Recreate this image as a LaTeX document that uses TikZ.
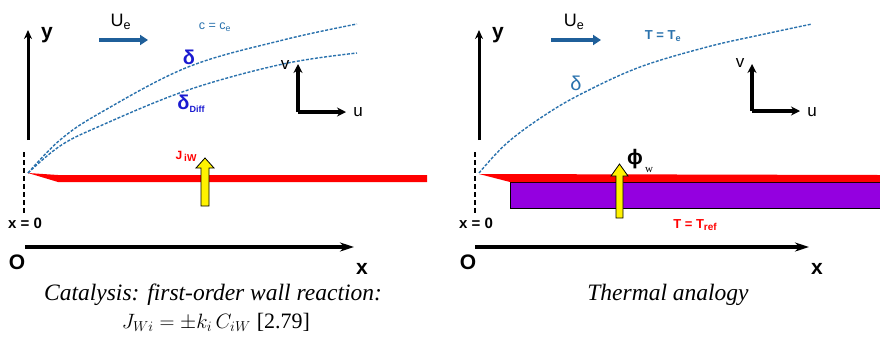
\documentclass[tikz,border=0pt]{standalone}
\usepackage{fontspec}
\setmainfont{Liberation Sans}
\newfontfamily\capfont{Liberation Serif}
\usetikzlibrary{arrows.meta}
\definecolor{steel}{HTML}{1F5F9A}
\definecolor{curveblue}{HTML}{2A72AD}
\definecolor{deltablue}{HTML}{1A1AD0}
\definecolor{wallred}{HTML}{FF0000}
\definecolor{slab}{HTML}{9400E0}
\newcommand{\fs}[1]{\fontsize{#1pt}{#1pt}\selectfont}
\tikzset{
  axisarrow/.style={line width=3pt,-{Stealth[length=9pt,width=8pt]}},
  xaxisarrow/.style={line width=4.5pt,-{Stealth[length=14pt,width=9pt]}},
  uvaxis/.style={line width=3.5pt,-{Stealth[length=9pt,width=9pt]}},
  flow/.style={steel,line width=4pt,-{Triangle[length=8pt,width=10pt]}},
  bl/.style={curveblue,line width=1.4pt,dash pattern=on 3pt off 1.6pt},
  zeroline/.style={line width=1.4pt,dash pattern=on 5pt off 3pt},
  lab/.style={inner sep=0pt,font=\fs{21}\bfseries},
  smalllab/.style={inner sep=0pt,font=\fs{17}},
  captext/.style={inner sep=0pt,font=\capfont\itshape\fs{23.5}},
  yarrow/.style={fill=yellow,draw=black,line width=0.8pt,line join=miter}
}
\begin{document}
\begin{tikzpicture}[x=1pt,y=-1pt]
\useasboundingbox (0,0) rectangle (880,341);
% ================= LEFT PANEL =================
\coordinate (LyB) at (28,140);
\coordinate (LyT) at (28,30);
\draw[axisarrow] (LyB) -- (LyT);
\node[lab] (Ly) at (47,35) {y};
\coordinate (LfA) at (99,40);
\coordinate (LfB) at (148,40);
\draw[flow] (LfA) -- (LfB);
\node[inner sep=0pt,font=\fs{18}] (LUe) at (121,22) {U\textsubscript{e}};
\node[inner sep=0pt,text=curveblue,font=\fs{12.5}] (Lce) at (215,27) {c = c\textsubscript{e}};
% boundary layer curves
\draw[bl] plot[smooth,tension=0.6] coordinates {(28,173) (60,140) (100,113) (188,67) (283,40) (357,24)};
\draw[bl] plot[smooth,tension=0.6] coordinates {(28,173) (60,146) (100,126) (188,90) (283,64) (357,53)};
\node[inner sep=0pt,text=deltablue,font=\fs{20}\bfseries] (Ld) at (189,57) {δ};
\node[inner sep=0pt,text=deltablue,font=\fs{20}\bfseries] (Ldd) at (191,104) {δ\raisebox{-3pt}{\fs{9}Diff}};
% v u axes
\coordinate (Lc) at (298,112);
\coordinate (Lv) at (298,64);
\coordinate (Lu) at (346,112);
\draw[uvaxis] (Lc) -- (Lv);
\draw[uvaxis] (Lc) -- (Lu);
\node[smalllab] (Lvl) at (285,65) {v};
\node[smalllab] (Lul) at (358,112) {u};
% wall
\fill[wallred] (28,173) -- (58,175) -- (427,175) -- (427,182) -- (58,182) -- cycle;
% dashed x=0 line
\coordinate (LzT) at (24,152);
\coordinate (LzB) at (24,214);
\draw[zeroline] (LzT) -- (LzB);
\node[inner sep=0pt,font=\fs{15}\bfseries] (Lx0) at (25,223) {x = 0};
% flux arrow
\draw[yarrow] (201,206) -- (201,168) -- (196,168) -- (205,158) -- (214,168) -- (209,168) -- (209,206) -- cycle;
\node[inner sep=0pt,text=wallred,font=\fs{12}\bfseries] (LJ) at (186,156) {J\,\raisebox{-2pt}{\fs{10}iW}};
% x axis
\coordinate (LxA) at (25,247);
\coordinate (LxB) at (354,247);
\draw[xaxisarrow] (LxA) -- (LxB);
\node[lab] (LO) at (17,262) {O};
\node[lab] (Lx) at (362,269) {x};
% caption
\node[captext] (Lcap1) at (213,295) {Catalysis: first-order wall reaction:};
\node[inner sep=0pt,font=\fs{22}] (Lcap2) at (216,322) {$J_{Wi} = \pm k_i\, C_{iW}$ {\capfont\upshape [2.79]}};
% ================= RIGHT PANEL =================
\coordinate (RyB) at (479,140);
\coordinate (RyT) at (479,30);
\draw[axisarrow] (RyB) -- (RyT);
\node[lab] (Ry) at (498,35) {y};
\coordinate (RfA) at (551,40);
\coordinate (RfB) at (601,40);
\draw[flow] (RfA) -- (RfB);
\node[inner sep=0pt,font=\fs{18}] (RUe) at (574,22) {U\textsubscript{e}};
\node[inner sep=0pt,text=curveblue,font=\fs{13}\bfseries] (RTe) at (663,36) {T = T\textsubscript{e}};
\draw[bl] plot[smooth,tension=0.6] coordinates {(479,173) (507,143) (545,115) (583,93) (640,67) (707,47) (760,35) (812,24)};
\node[inner sep=0pt,text=curveblue,font=\fs{20}] (Rd) at (576,83) {δ};
% v u axes
\coordinate (Rc) at (752,111);
\coordinate (Rv) at (752,64);
\coordinate (Ru) at (800,111);
\draw[uvaxis] (Rc) -- (Rv);
\draw[uvaxis] (Rc) -- (Ru);
\node[smalllab] (Rvl) at (740,63) {v};
\node[smalllab] (Rul) at (812,112) {u};
% slab and wall
\draw[fill=slab,draw=black,line width=0.8pt] (510,182) rectangle (885,208);
\fill[wallred] (479,174) -- (880,175) -- (880,182) -- (510,182) -- cycle;
% dashed x=0
\coordinate (RzT) at (475,152);
\coordinate (RzB) at (475,214);
\draw[zeroline] (RzT) -- (RzB);
\node[inner sep=0pt,font=\fs{15}\bfseries] (Rx0) at (476,223) {x = 0};
% flux arrow
\draw[yarrow] (616,218) -- (616,176) -- (611,176) -- (619.5,164) -- (628,176) -- (623,176) -- (623,218) -- cycle;
\node[inner sep=0pt,font=\fs{21}\bfseries] (Rphi) at (635,159) {ϕ};
\node[inner sep=0pt,font=\capfont\fs{11}] (Rw) at (649,170) {w};
\node[inner sep=0pt,text=wallred,font=\fs{13}\bfseries] (RTref) at (695,225) {T = T\raisebox{-2.5pt}{\fs{10}ref}};
% x axis
\coordinate (RxA) at (475,247);
\coordinate (RxB) at (809,247);
\draw[xaxisarrow] (RxA) -- (RxB);
\node[lab] (RO) at (468,262) {O};
\node[lab] (Rx) at (817,269) {x};
\node[captext] (Rcap) at (668,295) {Thermal analogy};
\end{tikzpicture}
\end{document}
